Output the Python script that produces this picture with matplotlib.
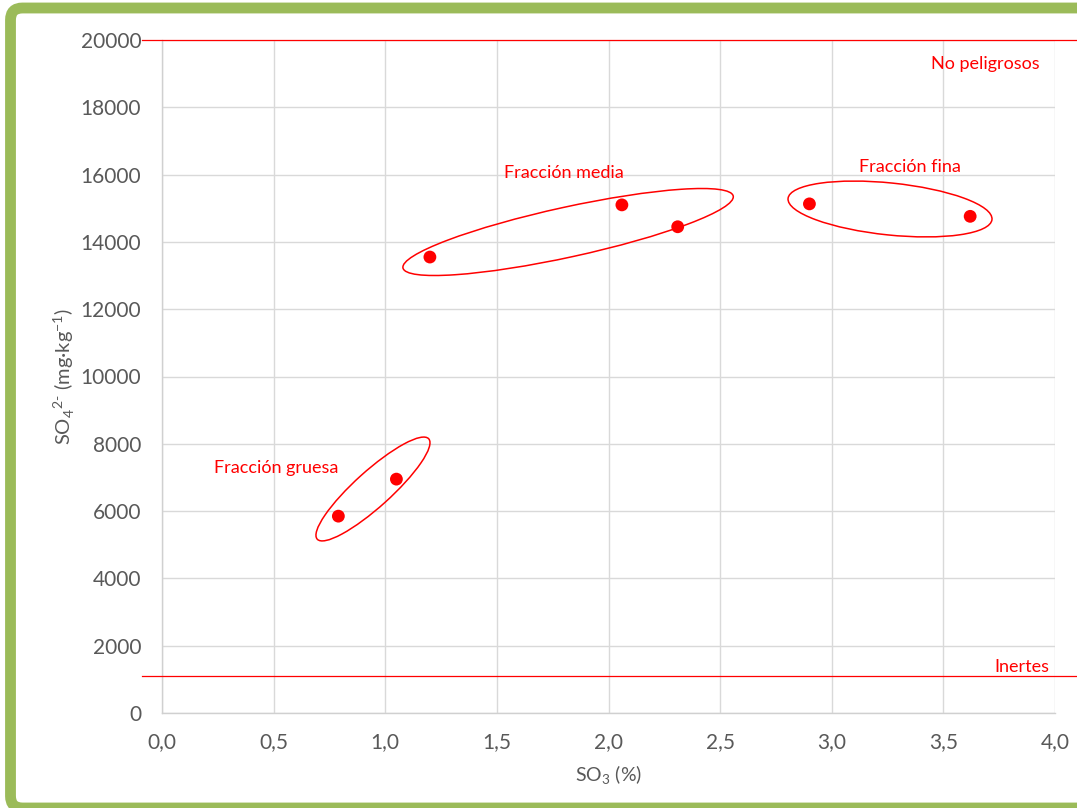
import matplotlib
matplotlib.use("Agg")
import matplotlib.pyplot as plt
import numpy as np
from matplotlib.patches import Ellipse, PathPatch
from matplotlib.path import Path
from matplotlib.ticker import FuncFormatter
from matplotlib.transforms import ScaledTranslation, Affine2D

plt.rcParams['font.family'] = ['Lato', 'DejaVu Sans']
plt.rcParams['mathtext.fontset'] = 'custom'
plt.rcParams['mathtext.rm'] = 'Lato'

# ---- data ----
so3 = [0.79, 1.05, 1.20, 2.06, 2.31, 2.90, 3.62]
so4 = [5850, 6950, 13550, 15100, 14450, 15130, 14760]

limit_values = [20000, 1100]
limit_labels = ["No peligrosos", "Inertes"]

group_labels = ["Fracción gruesa", "Fracción media", "Fracción fina"]
group_label_x = [0.51, 1.80, 3.35]
group_label_y = [7280, 16050, 16230]
group_center_x = [0.945, 1.819, 3.261]
group_center_y = [6657, 14294, 14978]

xticks = [0.0, 0.5, 1.0, 1.5, 2.0, 2.5, 3.0, 3.5, 4.0]
yticks = list(range(0, 20001, 2000))

RED = "#FF0000"
GRAY_TXT = "#595959"
GRID = "#D9D9D9"
GREEN = "#9BBB59"

W, H = 1077, 808
fig = plt.figure(figsize=(W / 100, H / 100), dpi=100)
fig.patch.set_facecolor("white")

# green frame (top, left, bottom edges; right edge outside the image)
xl, yt, yb, xr, r = 10.5, 8.0, 808.0, 1100.0, 12.0
verts = [(xr, yt), (xl + r, yt), (xl, yt), (xl, yt + r), (xl, yb - r), (xl, yb), (xl + r, yb), (xr, yb)]
codes = [Path.MOVETO, Path.LINETO, Path.CURVE3, Path.CURVE3, Path.LINETO, Path.CURVE3, Path.CURVE3, Path.LINETO]
verts = [(x / W, 1 - y / H) for x, y in verts]
frame = PathPatch(Path(verts, codes), transform=fig.transFigure, fill=False,
                  edgecolor=GREEN, linewidth=7.8, zorder=0)
fig.patches.append(frame)

ax = fig.add_axes([162 / W, 1 - 713 / H, (1055 - 162) / W, (713 - 40) / H])
ax.set_xlim(0, 4)
ax.set_ylim(0, 20000)
ax.set_xticks(xticks)
ax.set_yticks(yticks)
ax.xaxis.set_major_formatter(FuncFormatter(lambda v, p: f"{v:.1f}".replace(".", ",")))
ax.yaxis.set_major_formatter(FuncFormatter(lambda v, p: f"{int(v)}"))
ax.tick_params(length=0, labelsize=15, colors=GRAY_TXT)
ax.tick_params(axis='y', pad=15)
ax.tick_params(axis='x', pad=14)
ax.grid(True, color=GRID, linewidth=1.0)
ax.set_axisbelow(True)
for s in ["top", "right"]:
    ax.spines[s].set_visible(False)
for s in ["left", "bottom"]:
    ax.spines[s].set_color("#D0D0D0")
    ax.spines[s].set_linewidth(1.0)

# limit lines extending beyond the axes
for v in limit_values:
    ax.plot([-0.09, 4.2], [v, v], color=RED, linewidth=0.9, clip_on=False, zorder=3)

ax.text(3.69, 19290, limit_labels[0], color=RED, fontsize=13, ha="center", va="center")
ax.text(3.975, 1370, limit_labels[1], color=RED, fontsize=13, ha="right", va="center")

# points
ax.scatter(so3, so4, s=85, color=RED, zorder=4, edgecolors="none")

# group ellipses (sizes in pixels, rotated in display space)
ell_sizes = [(150, 36, 42.0), (338, 50, 12.3), (205, 52, -5.9)]
for cx, cy, (w, h, ang) in zip(group_center_x, group_center_y, ell_sizes):
    tr = (Affine2D().scale(w / 2, h / 2).rotate_deg(ang)
          + ScaledTranslation(cx, cy, ax.transData))
    e = Ellipse((0, 0), 2, 2, transform=tr, fill=False, edgecolor=RED,
                linewidth=1.1, zorder=3)
    ax.add_patch(e)

for lbl, lx, ly in zip(group_labels, group_label_x, group_label_y):
    ax.text(lx, ly, lbl, color=RED, fontsize=13, ha="center", va="center")

ax.set_xlabel(r"SO$_\mathregular{3}$ (%)", fontsize=14, color=GRAY_TXT, labelpad=8)
ax.set_ylabel("SO$_\\mathregular{4}$$^\\mathregular{2\u2010}$ (mg·kg$^\\mathregular{-1}$)",
              fontsize=14.5, color=GRAY_TXT)
ax.yaxis.set_label_coords((77 - 162) / 893, 0.5)

fig.savefig("out.png", dpi=100)
